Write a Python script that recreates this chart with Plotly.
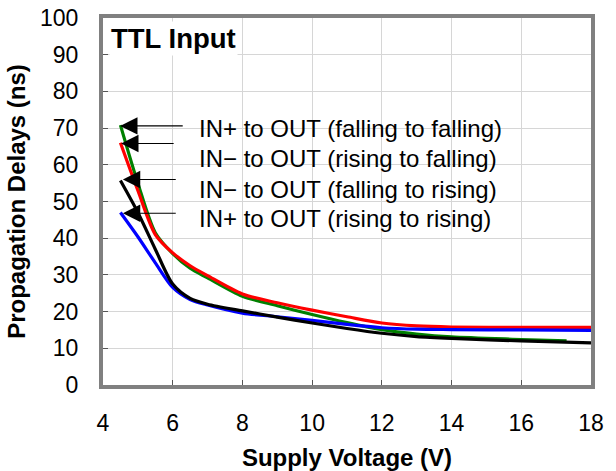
import plotly.graph_objects as go

# Supply voltage (V)
volts = [4.5, 5, 5.5, 6, 6.5, 7, 8, 9, 10, 11, 12, 13, 14, 16, 18]
volts_green = [4.5, 5, 5.5, 6, 6.5, 7, 8, 9, 10, 11, 12, 13, 14, 16, 17.3]

# Propagation delays (ns)
in_plus_fall_fall = [70.8, 55, 41.5, 35.8, 31.8, 29.2, 24.2, 21.6, 19.2, 17.0, 15.1, 13.9, 13.1, 12.4, 12.0]
in_minus_rise_fall = [66, 53, 41, 36, 32.5, 29.8, 24.8, 22.4, 20.4, 18.6, 16.9, 16.1, 15.8, 15.7, 15.7]
in_minus_fall_rise = [55.7, 47, 37, 27.5, 23.6, 22.0, 20.2, 18.5, 16.9, 15.4, 14.1, 13.2, 12.7, 12.0, 11.5]
in_plus_rise_rise = [47, 40.4, 33.3, 26.6, 23.3, 21.8, 19.6, 18.6, 17.6, 16.5, 15.6, 15.2, 15.1, 15.0, 14.9]

labels = ["IN+ to OUT (falling to falling)",
          "IN\u2212 to OUT (rising to falling)",
          "IN\u2212 to OUT (falling to rising)",
          "IN+ to OUT (rising to rising)"]

x_ticks = [4, 6, 8, 10, 12, 14, 16, 18]
y_ticks = [0, 10, 20, 30, 40, 50, 60, 70, 80, 90, 100]

FONT = "Arial, Liberation Sans, sans-serif"

fig = go.Figure()
series = [
    (volts_green, in_plus_fall_fall, "#008000"),
    (volts, in_minus_rise_fall, "#ff0000"),
    (volts, in_plus_rise_rise, "#0000ff"),
    (volts, in_minus_fall_rise, "#000000"),
]
for xs, ys, col in series:
    fig.add_trace(go.Scatter(x=xs, y=ys, mode="lines",
                             line=dict(color=col, width=3.2, shape="spline", smoothing=0.8),
                             showlegend=False, hoverinfo="skip"))

# labels with arrows
arrow_tips = [(4.49, 70.6), (4.52, 65.8), (4.57, 56.0), (4.57, 46.8)]
arrow_tails = [6.33, 6.07, 6.13, 6.13]
text_y = [69.9, 61.7, 53.3, 45.4]
for (tx, ty), tail, lab, yy in zip(arrow_tips, arrow_tails, labels, text_y):
    fig.add_annotation(x=tx, y=ty, ax=tail, ay=ty, axref="x", ayref="y",
                       xref="x", yref="y", text="", showarrow=True,
                       arrowhead=2, arrowsize=2.9, arrowwidth=1.2, arrowcolor="black")
    fig.add_annotation(x=6.7, y=yy, xref="x", yref="y", text=lab, showarrow=False,
                       xanchor="left", yanchor="middle",
                       font=dict(family=FONT, size=24, color="black"))

fig.add_annotation(x=0.012, y=0.943, xref="paper", yref="paper", text="<b>TTL Input</b>",
                   showarrow=False, xanchor="left", yanchor="middle", bgcolor="white",
                   font=dict(family=FONT, size=27.5, color="black"))

fig.update_xaxes(range=[4, 18], tickvals=x_ticks, showgrid=True, gridcolor="#d6d6d6", gridwidth=1,
                 showline=True, linewidth=4, linecolor="#808080", mirror=True,
                 ticks="inside", ticklen=5, tickcolor="#555555", automargin=False,
                 tickfont=dict(family=FONT, size=23, color="black"), ticklabelstandoff=14,
                 zeroline=False,
                 title=dict(text="<b>Supply Voltage (V)</b>", font=dict(family=FONT, size=24, color="black"),
                            standoff=16))
fig.update_yaxes(range=[0, 100], tickvals=y_ticks, showgrid=True, gridcolor="#d6d6d6", gridwidth=1,
                 showline=True, linewidth=4, linecolor="#808080", mirror=True,
                 ticks="inside", ticklen=5, tickcolor="#555555", automargin=False,
                 tickfont=dict(family=FONT, size=23, color="black"), ticklabelstandoff=16,
                 zeroline=False,
                 title=dict(text="<b>Propagation Delays (ns)</b>", font=dict(family=FONT, size=24, color="black"),
                            standoff=9))

fig.update_layout(width=616, height=471, margin=dict(l=103, r=25, t=18, b=86),
                  plot_bgcolor="white", paper_bgcolor="white")

fig.write_html("out.html", config={"displayModeBar": False},
               post_script="document.body.style.margin='0px';document.body.style.overflow='hidden';")
